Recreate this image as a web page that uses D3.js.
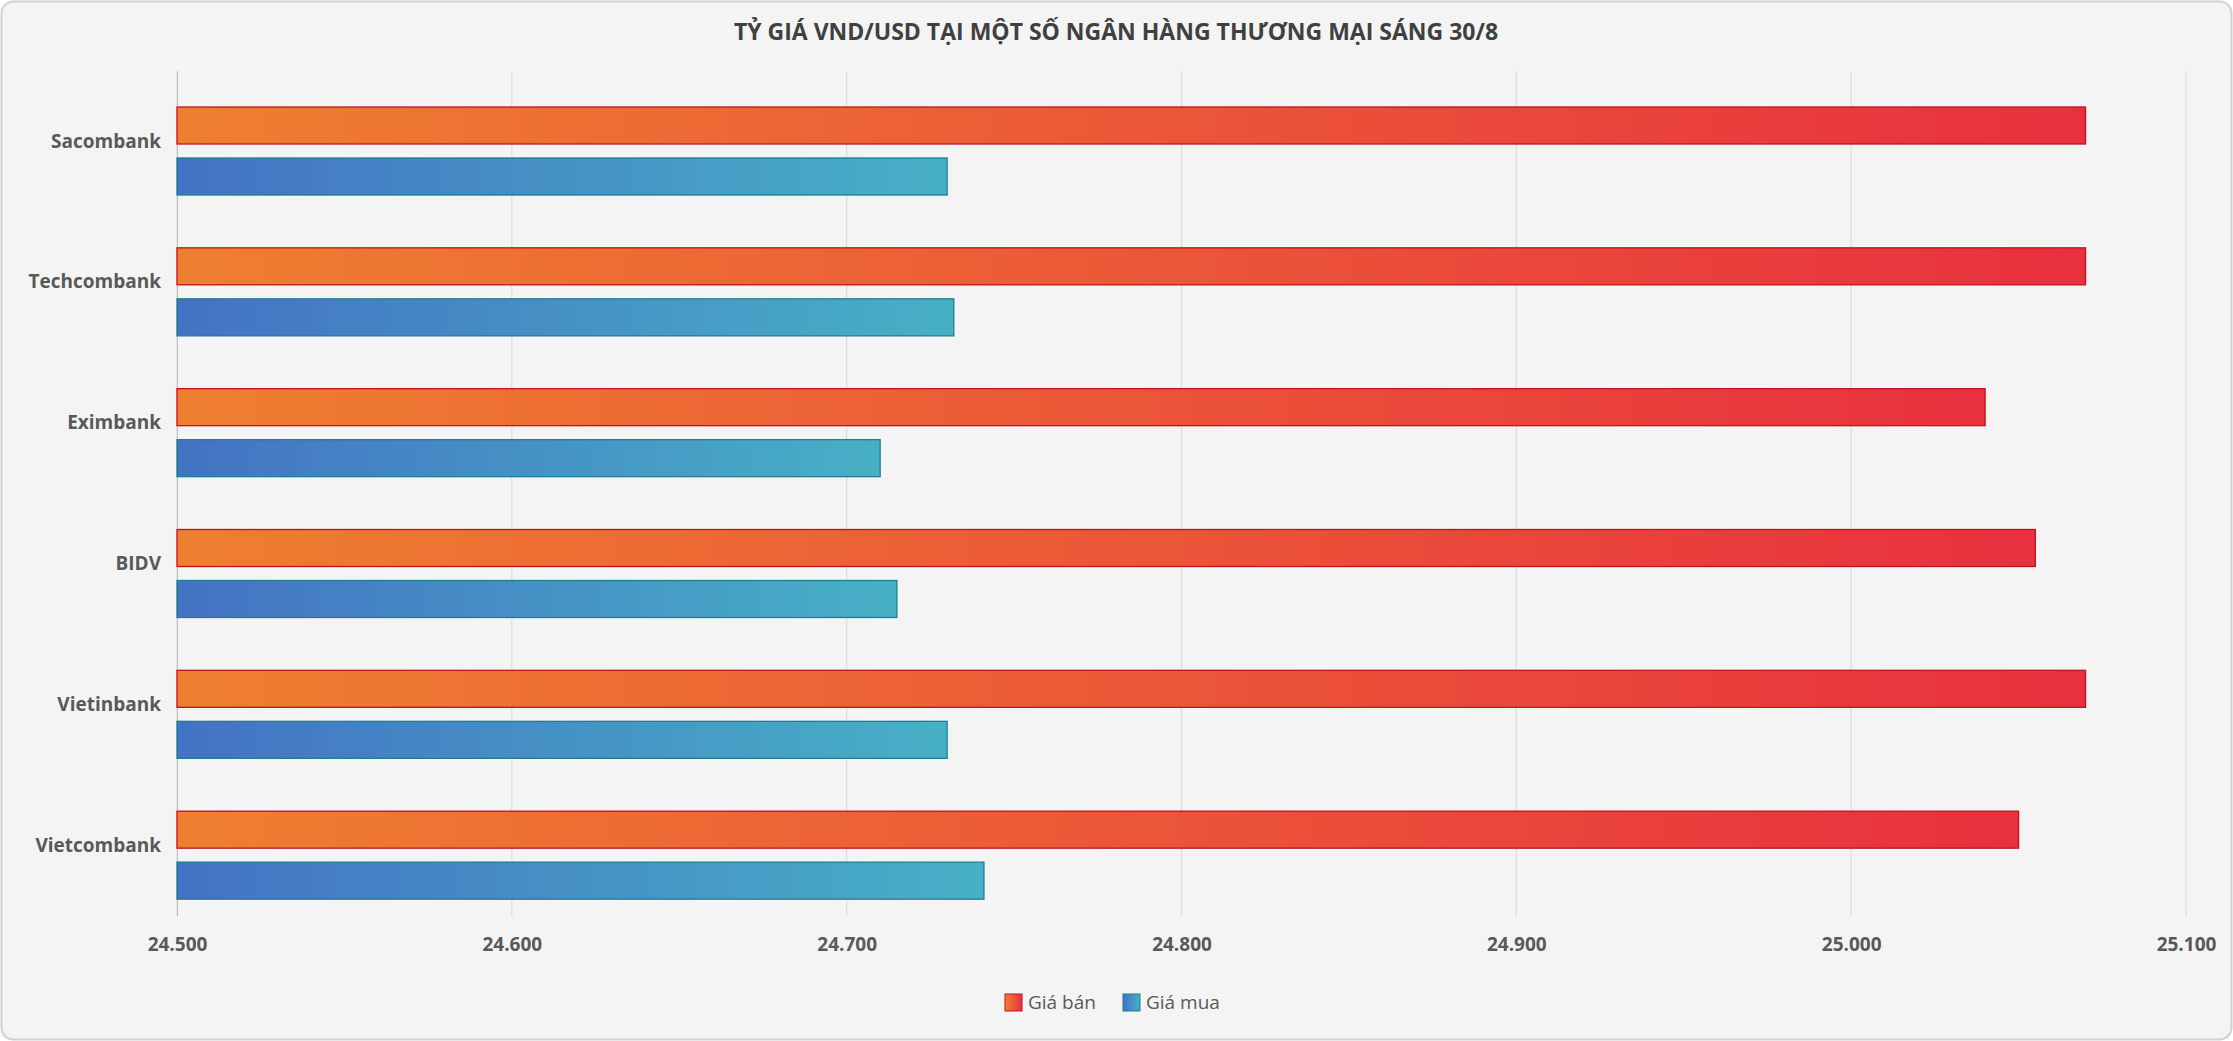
<!DOCTYPE html>
<html>
<head>
<meta charset="utf-8" />
<script src="https://cdn.jsdelivr.net/npm/d3@7"></script>
<style>
  body { margin: 0; background: #fff; font-family: "Open Sans", "Noto Sans", sans-serif; }
  .tick text { font-family: "Open Sans", sans-serif; font-size: 19px; font-weight: bold; fill: #595959; }
</style>
</head>
<body>
<svg width="2233" height="1041"></svg>
<script>
var banks = ["Sacombank", "Techcombank", "Eximbank", "BIDV", "Vietinbank", "Vietcombank"];
var giaBan = [25070, 25070, 25040, 25055, 25070, 25050];
var giaMua = [24730, 24732, 24710, 24715, 24730, 24741];
var xTicks = [24500, 24600, 24700, 24800, 24900, 25000, 25100];

var svg = d3.select("svg");
svg.append("rect").attr("x", 1.5).attr("y", 1.5).attr("width", 2230).attr("height", 1038)
  .attr("rx", 12).attr("fill", "#f4f4f4").attr("stroke", "#d0d0d0").attr("stroke-width", 2);

var defs = svg.append("defs");
function grad(id, a, b) {
  var g = defs.append("linearGradient").attr("id", id);
  g.append("stop").attr("offset", "0%").attr("stop-color", a);
  g.append("stop").attr("offset", "100%").attr("stop-color", b);
}
grad("gBan", "#ee7f30", "#e8303f");
grad("gMua", "#4472c4", "#47b0c6");

var pLeft = 177, pRight = 2186, pTop = 71, pBottom = 916;
var x = d3.scaleLinear().domain([24500, 25100]).range([pLeft, pRight]);
var y = d3.scaleBand().domain(banks).range([pTop, pBottom]);
var fmt = function(d) { return d3.format(",")(d).replace(/,/g, "."); };

svg.append("text").attr("x", 1116).attr("y", 40).attr("text-anchor", "middle")
  .attr("font-size", 23).attr("font-weight", "bold").attr("fill", "#404040")
  .text("TỶ GIÁ VND/USD TẠI MỘT SỐ NGÂN HÀNG THƯƠNG MẠI SÁNG 30/8");

svg.selectAll(".grid").data(xTicks).enter().append("line")
  .attr("x1", d => x(d)).attr("x2", d => x(d)).attr("y1", pTop).attr("y2", pBottom)
  .attr("stroke", "#dcdcdc").attr("stroke-width", 1.2);

var xa = svg.append("g").attr("transform", "translate(0," + pBottom + ")")
  .call(d3.axisBottom(x).tickValues(xTicks).tickFormat(fmt).tickSize(0).tickPadding(22));
xa.select(".domain").remove();

var ya = svg.append("g").attr("transform", "translate(" + pLeft + ",0)")
  .call(d3.axisLeft(y).tickSize(0).tickPadding(16));
ya.select(".domain").attr("stroke", "#bfbfbf");

var bh = 37;
svg.selectAll(".ban").data(banks).enter().append("rect")
  .attr("x", x(24500)).attr("y", d => y(d) + 36)
  .attr("width", (d, i) => x(giaBan[i]) - x(24500)).attr("height", bh)
  .attr("fill", "url(#gBan)").attr("stroke", "#c0141c").attr("stroke-width", 1.3);
svg.selectAll(".mua").data(banks).enter().append("rect")
  .attr("x", x(24500)).attr("y", d => y(d) + 36 + bh + 14)
  .attr("width", (d, i) => x(giaMua[i]) - x(24500)).attr("height", bh)
  .attr("fill", "url(#gMua)").attr("stroke", "#1d7f8f").attr("stroke-width", 1.3);

var leg = [["Giá bán", "url(#gBan)", "#c0141c"], ["Giá mua", "url(#gMua)", "#1d7f8f"]];
var lg = svg.selectAll(".leg").data(leg).enter().append("g")
  .attr("transform", (d, i) => "translate(" + (1005 + i * 118) + ",994)");
lg.append("rect").attr("width", 17).attr("height", 17).attr("fill", d => d[1]).attr("stroke", d => d[2]);
lg.append("text").attr("x", 23).attr("y", 15).attr("font-size", 19).attr("fill", "#595959").text(d => d[0]);
</script>
</body>
</html>
